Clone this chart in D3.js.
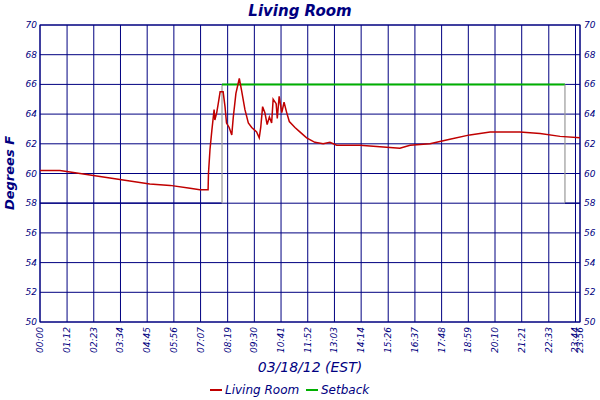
<!DOCTYPE html><html><head><meta charset="utf-8">
<script src="https://cdn.jsdelivr.net/npm/d3@7"></script>
<style>body{margin:0;background:#fff}text{font-family:"DejaVu Sans",sans-serif;font-style:italic;fill:#000080}</style>
</head><body><svg id="c" width="600" height="400"></svg><script>
const tickLabels=["00:00","01:12","02:23","03:34","04:45","05:56","07:07","08:19","09:30","10:41","11:52","13:03","14:14","15:26","16:37","17:48","18:59","20:10","21:21","22:33","23:44","23:56"];
const tickMinutes=[0,72,143,214,285,356,427,499,570,641,712,783,854,926,997,1068,1139,1210,1281,1353,1424,1436];
const livingMin=[0,53,80,133,186,239,292,346,399,425,447,448,452,457,463,465,470,474,479,487,492,496,503,510,514,521,530,536,545,554,563,576,583,587,592,598,604,610,616,620,628,631,636,643,649,656,663,678,691,709,731,753,771,789,798,851,904,957,984,1037,1090,1143,1197,1276,1330,1383,1436];
const livingTemp=[60.2,60.2,60.1,59.9,59.7,59.5,59.3,59.2,59.0,58.9,58.9,60.0,61.6,62.9,64.3,63.6,64.1,64.7,65.5,65.5,64.5,63.4,63.1,62.6,63.8,65.4,66.4,65.6,64.3,63.4,63.1,62.8,62.4,63.1,64.5,64.1,63.3,63.8,63.4,65.0,64.7,63.7,65.2,64.1,64.8,64.1,63.5,63.1,62.8,62.4,62.1,62.0,62.1,61.9,61.9,61.9,61.8,61.7,61.9,62.0,62.3,62.6,62.8,62.8,62.7,62.5,62.4];
const setbackMin=[0,484,484,1396,1396,1436];
const setbackTemp=[58,58,66,66,58,58];
const yTicks=d3.range(50,71,2);
const svg=d3.select("#c");
const x=d3.scaleLinear().domain([0,1436]).range([40,580]);
const y=d3.scaleLinear().domain([50,70]).range([322,25]);
const g=svg.append("g");
g.selectAll(".vg").data(tickMinutes).join("line").attr("x1",d=>x(d)).attr("x2",d=>x(d)).attr("y1",y(50)).attr("y2",y(70)).attr("stroke","#000080");
g.selectAll(".hg").data(yTicks).join("line").attr("x1",x(0)).attr("x2",x(1436)).attr("y1",d=>y(d)).attr("y2",d=>y(d)).attr("stroke","#000080");
g.append("rect").attr("x",x(0)).attr("y",y(70)).attr("width",x(1436)-x(0)).attr("height",y(50)-y(70)).attr("fill","none").attr("stroke","#000080");
const sb=setbackMin.map((m,i)=>[m,setbackTemp[i]]);
for(let i=1;i<sb.length;i++){const a=sb[i-1],b=sb[i];g.append("line").attr("x1",x(a[0])).attr("x2",x(b[0])).attr("y1",y(a[1])).attr("y2",y(b[1])).attr("stroke",a[1]===b[1]?(a[1]===66?"#00b000":"#000080"):"#999").attr("stroke-width",a[1]===b[1]&&a[1]===66?2:1.2);}
const lv=livingMin.map((m,i)=>[m,livingTemp[i]]);
g.append("path").datum(lv).attr("d",d3.line().x(d=>x(d[0])).y(d=>y(d[1]))).attr("fill","none").attr("stroke","#c00000").attr("stroke-width",1.5);
g.selectAll(".yl").data(yTicks).join("text").attr("x",x(0)-3).attr("y",d=>y(d)+3).attr("text-anchor","end").attr("font-size",9).text(d=>d);
g.selectAll(".yr").data(yTicks).join("text").attr("x",x(1436)+4).attr("y",d=>y(d)+3).attr("font-size",9).text(d=>d);
g.selectAll(".xl").data(tickLabels).join("text").attr("transform",(d,i)=>`translate(${x(tickMinutes[i])+3},327) rotate(-90)`).attr("text-anchor","end").attr("font-size",9).text(d=>d);
svg.append("text").attr("x",300).attr("y",16).attr("text-anchor","middle").attr("font-size",15).attr("font-weight","bold").text("Living Room");
svg.append("text").attr("transform","translate(14,173) rotate(-90)").attr("text-anchor","middle").attr("font-size",13).attr("font-weight","bold").text("Degrees F");
svg.append("text").attr("x",310).attr("y",372).attr("text-anchor","middle").attr("font-size",14).text("03/18/12 (EST)");
const lg=[["Living Room","#c00000",210],["Setback","#00b000",306]];
lg.forEach(([t,c,lx])=>{svg.append("line").attr("x1",lx).attr("x2",lx+12).attr("y1",390).attr("y2",390).attr("stroke",c).attr("stroke-width",2);svg.append("text").attr("x",lx+15).attr("y",394).attr("font-size",12).text(t);});
</script></body></html>
